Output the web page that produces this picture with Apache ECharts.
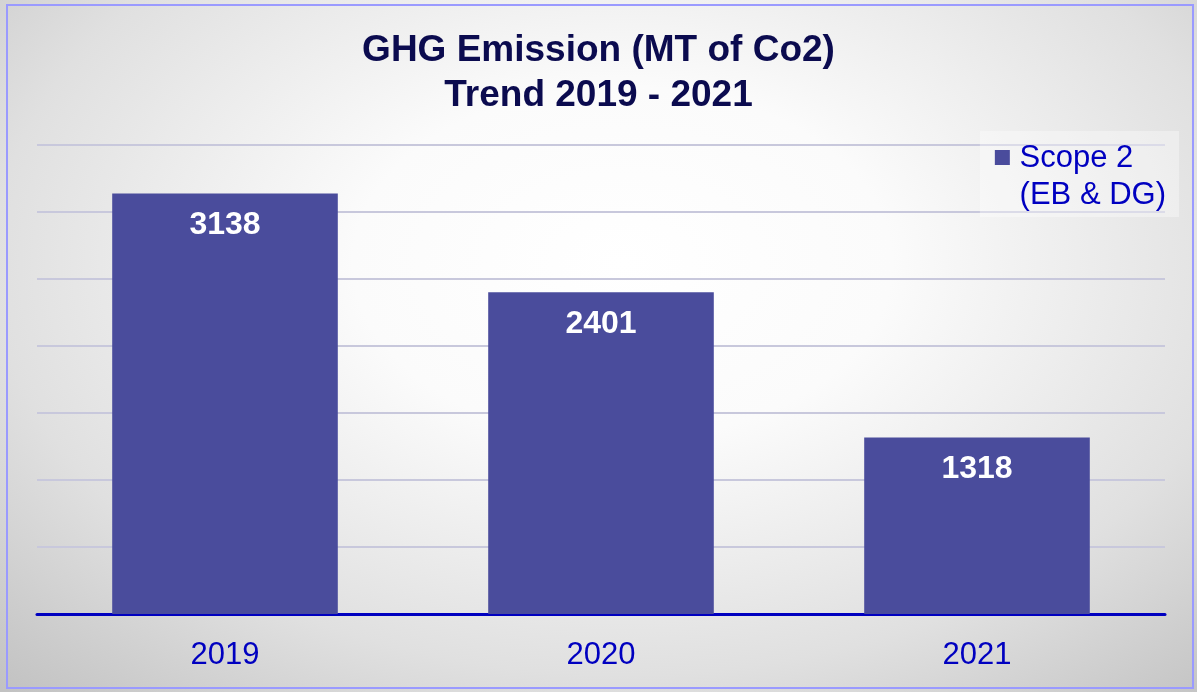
<!DOCTYPE html>
<html>
<head>
<meta charset="utf-8">
<script src="https://cdn.jsdelivr.net/npm/echarts@6/dist/echarts.min.js"></script>
<style>
  html, body { margin: 0; padding: 0; }
  #chart {
    width: 1197px; height: 692px;
    background: radial-gradient(ellipse 75% 85% at 52% 38%, #ffffff 0%, #fbfbfb 30%, #e0e0e0 70%, #c2c2c2 100%);
  }
</style>
</head>
<body>
<div id="chart"></div>
<script>
// 数据
const years = ['2019', '2020', '2021'];
const scope2 = [3138, 2401, 1318];
const seriesName = 'Scope 2\n(EB & DG)';

const FONT = 'Arial, "Liberation Sans", sans-serif';

const chart = echarts.init(document.getElementById('chart'));

const option = {
    animation: false,
    title: {
        text: 'GHG Emission (MT of Co2)\nTrend 2019 - 2021',
        left: 'center',
        top: 23,
        textStyle: {
            fontFamily: FONT,
            fontSize: 37,
            fontWeight: 'bold',
            color: '#0b0b4f',
            lineHeight: 45
        }
    },
    legend: {
        right: 18,
        top: 131,
        orient: 'vertical',
        itemWidth: 20,
        itemHeight: 54,
        itemGap: 0,
        padding: [9, 13, 3, 15],
        backgroundColor: 'rgba(255,255,255,0.35)',
        // 方块放在图例项的左上角, 与第一行文字对齐, 右边留点空
        data: [{ name: seriesName, icon: 'path://M0,0h10v10h-10z M13,36' }],
        textStyle: {
            fontFamily: FONT,
            fontSize: 31,
            color: '#0000c0',
            lineHeight: 37
        }
    },
    grid: { left: 37, right: 32, top: 145, bottom: 78 },
    xAxis: {
        type: 'category',
        data: years,
        axisLine: { lineStyle: { color: '#0000c0', width: 3 } },
        axisTick: { show: false },
        axisLabel: {
            fontFamily: FONT,
            fontSize: 31,
            color: '#0000c0',
            margin: 26
        }
    },
    yAxis: {
        type: 'value',
        min: 0,
        max: 3500,
        interval: 500,
        axisLabel: { show: false },
        axisLine: { show: false },
        axisTick: { show: false },
        splitLine: { lineStyle: { color: '#c8c8dc', width: 2 } }
    },
    series: [{
        name: seriesName,
        type: 'bar',
        data: scope2,
        barWidth: '60%',
        itemStyle: { color: '#4a4c9c' },
        label: {
            show: true,
            position: 'insideTop',
            distance: 16,
            fontFamily: FONT,
            fontSize: 32,
            fontWeight: 'bold',
            color: '#ffffff'
        }
    }],
    graphic: [{
        type: 'rect',
        shape: { x: 7, y: 5, width: 1186, height: 683 },
        style: { fill: 'none', stroke: '#9a9aff', lineWidth: 2 },
        silent: true
    }]
};

chart.setOption(option);
</script>
</body>
</html>
